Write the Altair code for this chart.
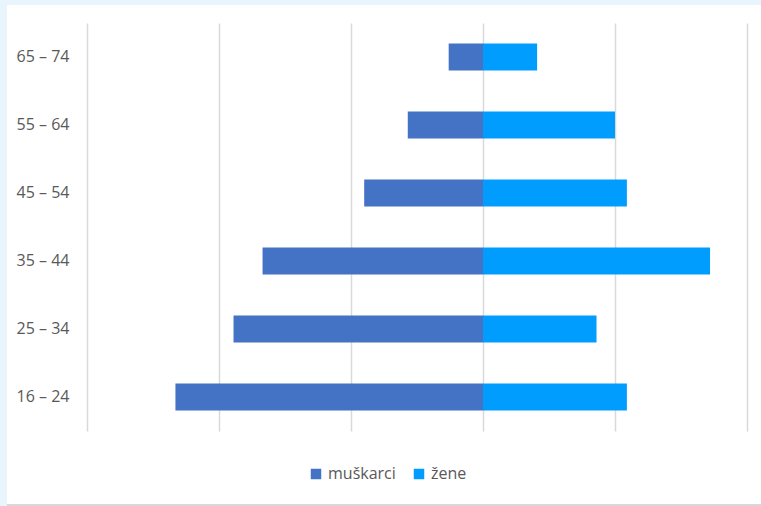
import altair as alt
import pandas as pd

# Age groups, top to bottom
age_groups = ["65 – 74", "55 – 64", "45 – 54", "35 – 44", "25 – 34", "16 – 24"]
muskarci = [2.6, 5.7, 9.0, 16.7, 18.9, 23.3]
zene = [4.1, 10.0, 10.9, 17.2, 8.6, 10.9]
series = ["muškarci", "žene"]
colors = ["#4472C4", "#009DFF"]

rows = []
for g, m, z in zip(age_groups, muskarci, zene):
    rows.append({"dob": g, "spol": series[0], "vrijednost": -m})
    rows.append({"dob": g, "spol": series[1], "vrijednost": z})
df = pd.DataFrame(rows)

FONT = "Open Sans"
LABEL = "#595959"

bars = alt.Chart(df).mark_bar().encode(
    y=alt.Y(
        "dob:N",
        sort=age_groups,
        title=None,
        scale=alt.Scale(paddingInner=0.6, paddingOuter=0.3),
        axis=alt.Axis(
            ticks=False, domain=False, grid=False,
            labelFont=FONT, labelFontSize=16, labelColor=LABEL, labelPadding=18,
        ),
    ),
    x=alt.X(
        "vrijednost:Q",
        title=None,
        scale=alt.Scale(domain=[-30, 20], nice=False, zero=False),
        axis=alt.Axis(
            values=[-30, -20, -10, 0, 10, 20],
            labels=False, ticks=False, domain=False,
            gridColor="#D9D9D9", gridWidth=1.5,
        ),
    ),
    color=alt.Color(
        "spol:N",
        scale=alt.Scale(domain=series, range=colors),
        legend=alt.Legend(
            title=None, orient="none", direction="horizontal",
            legendX=221, legendY=443,
            symbolType="square", symbolSize=110, symbolStrokeWidth=0,
            labelFont=FONT, labelFontSize=16, labelColor=LABEL,
            labelOffset=4, columnPadding=15,
        ),
    ),
)

one = pd.DataFrame({"k": [0]})
# Frame around the chart: light strips on top and left, grey rule at the bottom
top_strip = alt.Chart(one).mark_rect(color="#E9F5FD").encode(
    x=alt.value(-87), x2=alt.value(674), y=alt.value(-23), y2=alt.value(-18)
)
left_strip = alt.Chart(one).mark_rect(color="#E9F5FD").encode(
    x=alt.value(-87), x2=alt.value(-80), y=alt.value(-23), y2=alt.value(483)
)
bottom_rule = alt.Chart(one).mark_rect(color="#D9D9D9").encode(
    x=alt.value(-80), x2=alt.value(674), y=alt.value(481), y2=alt.value(483)
)

chart = alt.layer(bars, top_strip, left_strip, bottom_rule).properties(
    width=660,
    height=408,
    autosize=alt.AutoSizeParams(type="none"),
    padding={"left": 87, "top": 23, "right": 14, "bottom": 75},
    background="white",
).configure_view(stroke=None)

chart.save("out.html", embed_options={"renderer": "svg", "actions": False})
